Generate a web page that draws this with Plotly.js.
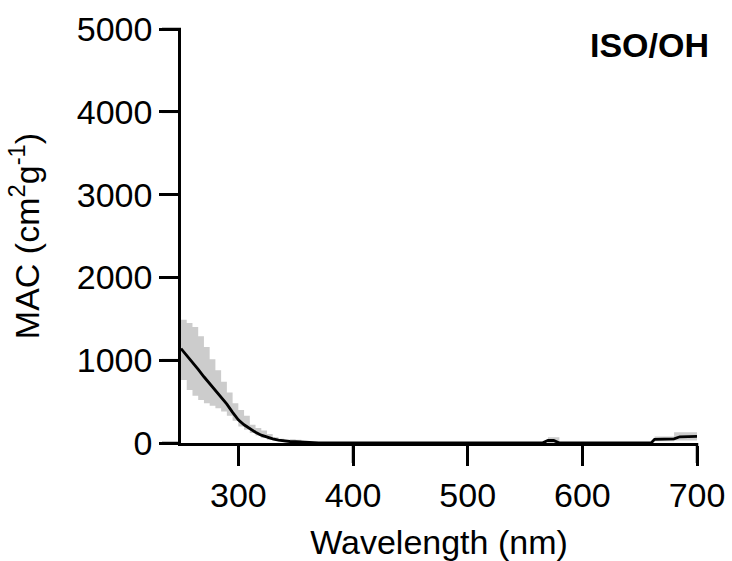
<!DOCTYPE html>
<html>
<head>
<meta charset="utf-8">
<script src="https://cdn.plot.ly/plotly-3.0.1.min.js"></script>
<style>html,body{margin:0;padding:0;background:#fff;}#chart{width:732px;height:561px;}</style>
</head>
<body>
<div id="chart"></div>
<script>
// Wavelength (nm)
const wavelength = [250,255,260,265,270,275,280,285,290,295,300,305,310,315,320,325,330,335,340,345,350,355,360,365,370,375,380,390,400,450,500,550,560,565,570,575,580,600,650,660,663,665,670,675,680,685,690,695,700];
// MAC (cm2 g-1), mean
const macMean = [1140,1060,980,890,800,720,640,560,470,370,280,220,170,130,95,70,50,35,22,18,15,10,5,3,2,1,0,0,0,0,0,0,0,0,30,30,0,0,0,0,45,45,45,45,50,75,75,80,80];
// Upper edge of uncertainty band
const macUpper = [1490,1450,1400,1290,1160,1010,880,740,610,480,400,330,220,180,150,110,70,50,35,45,40,25,10,6,4,2,0,0,0,0,0,0,0,0,70,70,0,0,0,0,80,80,80,80,130,130,130,130,130];
// Lower edge of uncertainty band
const macLower = [760,640,570,520,480,450,420,380,330,270,200,160,120,90,60,40,30,20,10,0,0,0,0,0,0,0,0,0,0,0,0,0,0,0,0,0,0,0,0,0,20,20,20,20,30,30,30,30,30];
// Tick values
const xTicks = [300,400,500,600,700];
const yTicks = [0,1000,2000,3000,4000,5000];
const X_RANGE = [250, 700];
const Y_RANGE = [0, 5000];

const FONT = 'Liberation Sans, Arial, sans-serif';
const PLOT_W = 732 - 181 - 35, PLOT_H = 561 - 29 - 118;
const XTICK_LEN = 20, YTICK_LEN = 19, TICK_W = 2.5;

const traces = [
  {x: wavelength, y: macLower, type: 'scatter', mode: 'lines', line: {width: 0, shape: 'hv'}, hoverinfo: 'skip', showlegend: false},
  {x: wavelength, y: macUpper, type: 'scatter', mode: 'lines', line: {width: 0, shape: 'hv'}, fill: 'tonexty', fillcolor: '#cccccc', hoverinfo: 'skip', showlegend: false},
  {x: wavelength, y: macMean, type: 'scatter', mode: 'lines', line: {color: '#000000', width: 2.8}, showlegend: false}
];

// Tick marks drawn as thin filled rectangles just outside the plot area
const tickShapes = [];
xTicks.forEach(v => {
  const f = (v - X_RANGE[0]) / (X_RANGE[1] - X_RANGE[0]);
  const hw = TICK_W / 2 / PLOT_W;
  tickShapes.push({type: 'rect', xref: 'paper', yref: 'paper', x0: f - hw, x1: f + hw, y0: -XTICK_LEN / PLOT_H, y1: 0, fillcolor: '#000000', line: {width: 0}});
});
yTicks.forEach(v => {
  const f = (v - Y_RANGE[0]) / (Y_RANGE[1] - Y_RANGE[0]);
  const hh = TICK_W / 2 / PLOT_H;
  tickShapes.push({type: 'rect', xref: 'paper', yref: 'paper', x0: -YTICK_LEN / PLOT_W, x1: 0, y0: f - hh, y1: f + hh, fillcolor: '#000000', line: {width: 0}});
});

const layout = {
  width: 732, height: 561,
  margin: {l: 181, r: 35, t: 29, b: 118, pad: 0},
  paper_bgcolor: '#ffffff', plot_bgcolor: '#ffffff',
  font: {family: FONT, size: 34, color: '#000'},
  showlegend: false,
  xaxis: {
    range: X_RANGE, tickmode: 'array', tickvals: xTicks, ticktext: xTicks.map(String),
    ticks: 'outside', ticklen: XTICK_LEN, tickwidth: TICK_W, tickcolor: 'black',
    showline: true, linewidth: 2.5, linecolor: 'black', showgrid: false, zeroline: false, mirror: false,
    tickfont: {family: FONT, size: 34, color: 'black'},
    title: {text: 'Wavelength (nm)', font: {family: FONT, size: 34}, standoff: 18}
  },
  yaxis: {
    range: Y_RANGE, tickmode: 'array', tickvals: yTicks, ticktext: yTicks.map(String),
    ticks: 'outside', ticklen: YTICK_LEN, tickwidth: TICK_W, tickcolor: 'black',
    showline: true, linewidth: 2.5, linecolor: 'black', showgrid: false, zeroline: false,
    tickfont: {family: FONT, size: 34, color: 'black'},
    title: {text: 'MAC (cm<sup>2</sup>g<sup>-1</sup>)', font: {family: FONT, size: 34}, standoff: 27}
  },
  shapes: tickShapes,
  annotations: [{
    text: '<b>ISO/OH</b>', xref: 'paper', yref: 'paper', x: 1.027, y: 0.961, xanchor: 'right', yanchor: 'middle',
    showarrow: false, font: {family: FONT, size: 34, color: '#000'}
  }]
};

Plotly.newPlot('chart', traces, layout, {displayModeBar: false});
</script>
</body>
</html>
